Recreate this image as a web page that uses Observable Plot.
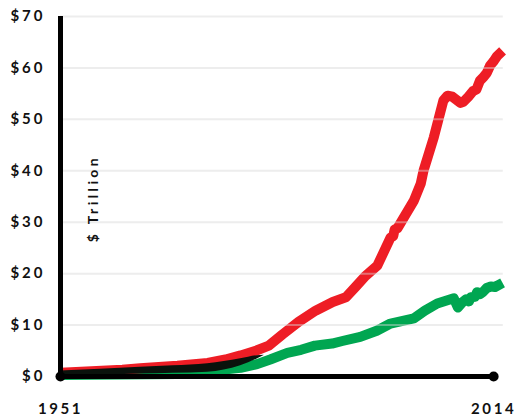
<!DOCTYPE html>
<html>
<head>
<meta charset="utf-8">
<script src="https://cdn.jsdelivr.net/npm/d3@7"></script>
<script src="https://cdn.jsdelivr.net/npm/@observablehq/plot@0.6"></script>
<style>
  html, body { margin: 0; padding: 0; background: #fff; }
  #chart svg { display: block; }
  g[aria-label="y-axis tick label"] text { letter-spacing: 3px; }
  g[aria-label="x-axis tick label"] text { letter-spacing: 2.6px; }
  g[aria-label="text"] text { letter-spacing: 3.4px; }
</style>
</head>
<body>
<div id="chart"></div>
<script>
// Red series ($ trillion)
const redYears = [1951, 1960, 1962.6, 1968, 1972.4, 1975, 1977.2, 1979.4, 1981.3, 1983.3, 1985.6, 1988.1, 1990.6, 1992.5, 1993.9, 1995.4, 1997.1, 1999, 1999.4, 1999.6, 2000, 2002.4, 2003.4, 2003.8, 2005.3, 2006.7, 2007.3, 2008, 2009.2, 2009.6, 2010.4, 2011, 2011.5, 2012, 2012.5, 2013, 2013.5, 2014, 2014.5, 2015.3];
const redValues = [0.75, 1.3, 1.6, 2.1, 2.65, 3.3, 4.1, 5.0, 6.0, 8.2, 10.6, 12.8, 14.5, 15.4, 17.4, 19.6, 21.6, 27.0, 27.3, 28.6, 28.8, 34.2, 37.5, 40.0, 46.5, 53.7, 54.6, 54.4, 53.2, 53.4, 54.5, 55.5, 55.8, 57.5, 58.2, 59.0, 60.5, 61.3, 62.3, 63.3];

// Green series ($ trillion)
const greenYears = [1951, 1960, 1968, 1972.4, 1977.2, 1979.6, 1981.5, 1984, 1986, 1988, 1990.5, 1992, 1994.6, 1997, 1999, 2002.4, 2004, 2005.8, 2008.2, 2008.8, 2009.5, 2010, 2010.4, 2010.7, 2011.3, 2011.6, 2012, 2012.5, 2013, 2013.6, 2014.2, 2015.3];
const greenValues = [0.3, 0.4, 0.5, 1.0, 1.7, 2.4, 3.3, 4.6, 5.2, 6.0, 6.4, 6.9, 7.7, 8.9, 10.3, 11.3, 12.8, 14.2, 15.2, 13.4, 14.5, 15.0, 14.6, 15.4, 15.5, 16.4, 16.0, 16.5, 17.2, 17.5, 17.4, 18.2];

// Black band ($ trillion): lower and upper edges
const blackYears = [1951, 1962.6, 1967.4, 1972.4, 1977.2, 1979.6, 1980.6];
const blackLow = [0, 0.5, 0.65, 0.85, 2.1, 3.4, 4.1];
const blackHigh = [1.05, 1.8, 2.1, 2.5, 3.45, 4.05, 4.15];

const yTicks = [0, 10, 20, 30, 40, 50, 60, 70];
const xTicks = [1951, 2014];
const axisLabel = "$ Trillion";

const toRows = (xs, vs) => xs.map((x, i) => ({ year: x, value: vs[i] }));
const red = toRows(redYears, redValues);
const green = toRows(greenYears, greenValues);
const black = blackYears.map((x, i) => ({ year: x, low: blackLow[i], high: blackHigh[i] }));

const chart = Plot.plot({
  width: 515,
  height: 418,
  marginLeft: 60,
  marginRight: 15,
  marginTop: 16,
  marginBottom: 42,
  style: { fontFamily: "Lato, 'DejaVu Sans', sans-serif", background: "#fff", color: "#111" },
  x: { domain: [1951, 2015] },
  y: { domain: [0, 70] },
  marks: [
    Plot.line(green, { x: "year", y: "value", stroke: "#00a651", strokeWidth: 10, strokeLinejoin: "round", strokeLinecap: "butt" }),
    Plot.line(red, { x: "year", y: "value", stroke: "#ee1d25", strokeWidth: 10, strokeLinejoin: "round", strokeLinecap: "butt" }),
    Plot.areaY(black, { x: "year", y1: "low", y2: "high", fill: "#0a120c", curve: "monotone-x" }),
    Plot.ruleY(yTicks.filter(d => d > 0), { x1: 1951, x2: 2015.4, stroke: "#d8d8d8", strokeOpacity: 0.45, strokeWidth: 2 }),
    Plot.ruleX([1951], { y1: 0, y2: 70, stroke: "#000", strokeWidth: 5 }),
    Plot.ruleY([0], { x1: 1951, x2: 2014, stroke: "#000", strokeWidth: 5 }),
    Plot.dot([[1951, 0], [2014, 0]], { x: d => d[0], y: d => d[1], r: 5, fill: "#000" }),
    Plot.axisY(yTicks, { tickSize: 0, tickPadding: 15, tickFormat: d => "$" + d, fontSize: 15, fontWeight: "bold", label: null }),
    Plot.axisX(xTicks, { tickSize: 0, tickPadding: 27, tickFormat: d => String(d), fontSize: 15, fontWeight: "bold", label: null }),
    Plot.text([axisLabel], { frameAnchor: "left", dx: 33, y: () => 34.6, text: d => d, rotate: -90, textAnchor: "middle", fontSize: 14, fontWeight: "bold", fill: "#111" })
  ]
});
document.getElementById("chart").appendChild(chart);
</script>
</body>
</html>
